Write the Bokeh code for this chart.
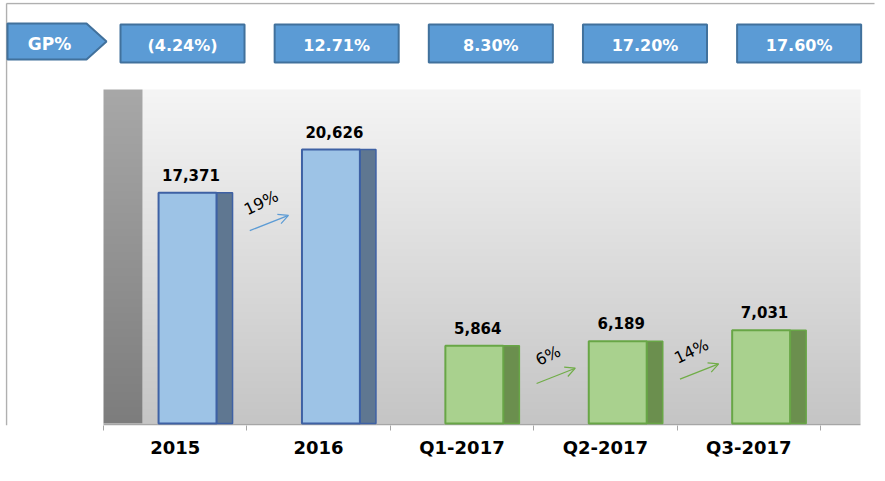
import numpy as np
from bokeh.plotting import figure
from bokeh.models import Range1d, FixedTicker, Arrow, OpenHead, ColumnDataSource
from bokeh.embed import file_html
from bokeh.resources import INLINE
from bokeh.core.properties import value

# ---------------- data ----------------
categories = ["2015", "2016", "Q1-2017", "Q2-2017", "Q3-2017"]
revenue = [17371, 20626, 5864, 6189, 7031]
period_type = ["annual", "annual", "quarter", "quarter", "quarter"]
gp_labels = ["(4.24%)", "12.71%", "8.30%", "17.20%", "17.60%"]
growth_labels = ["19%", "6%", "14%"]
growth_from = [0, 2, 3]   # index of the bar each growth arrow starts from

# ---------------- styles / layout ----------------
FONT = "DejaVu Sans"
W, H = 885, 481
CAT0_PX = 103          # screen x of category boundary 0
PX_PER_CAT = 143.4
FRAME_L, FRAME_R = 5, 880
FRAME_T, FRAME_B = 2, 425
BASE_PX = 423          # screen y of value 0
PX_PER_UNIT = 0.01328
WALL_R = (860 - CAT0_PX) / PX_PER_CAT
WALL_TOP = (BASE_PX - 89) / PX_PER_UNIT
SIDE_W = (142 - CAT0_PX) / PX_PER_CAT

FRONT = {"annual": "#9dc3e6", "quarter": "#a9d18e"}
EDGE = {"annual": "#3e61a4", "quarter": "#68a646"}
SIDE = {"annual": "#5f7791", "quarter": "#6b8f4e"}
ARROW = {"annual": "#5b9bd5", "quarter": "#70ad47"}


def ux(px):
    return (px - CAT0_PX) / PX_PER_CAT


def gradient(bottom, top, n=256):
    t = np.linspace(0, 1, n)[:, None]
    cols = np.array(bottom) + (np.array(top) - np.array(bottom)) * t
    img = np.zeros((n, 1), dtype=np.uint32)
    view = img.view(dtype=np.uint8).reshape((n, 1, 4))
    view[:, 0, 0:3] = cols.astype(np.uint8)
    view[:, 0, 3] = 255
    return img


p = figure(width=W, height=H,
           x_range=Range1d(ux(FRAME_L), ux(FRAME_R)),
           y_range=Range1d((BASE_PX - FRAME_B) / PX_PER_UNIT,
                           (BASE_PX - FRAME_T) / PX_PER_UNIT),
           y_axis_location=None, toolbar_location=None, output_backend="svg",
           min_border_left=FRAME_L, min_border_right=W - FRAME_R,
           min_border_top=FRAME_T, min_border_bottom=H - FRAME_B,
           outline_line_color=None)
p.grid.visible = False
p.extra_y_ranges = {"px": Range1d(start=FRAME_B, end=FRAME_T)}

# slide border lines (top & left)
p.segment(x0=[ux(6), ux(6)], y0=[3, 3], x1=[ux(6), ux(874)], y1=[FRAME_B, 3],
          line_color="#b0b0b0", line_width=1.5, y_range_name="px")

# back wall + side wall
p.image_rgba(image=[gradient((197, 197, 197), (245, 245, 245))],
             x=SIDE_W, y=0, dw=WALL_R - SIDE_W, dh=WALL_TOP)
p.image_rgba(image=[gradient((125, 125, 125), (168, 168, 168))],
             x=0, y=0, dw=SIDE_W, dh=WALL_TOP)
# floor line
p.segment(x0=[0], y0=[424], x1=[WALL_R], y1=[424], line_color="#a6a6a6",
          line_width=2, y_range_name="px")

# ---------------- GP% row ----------------
box_x = [0.551 + i * 1.075 for i in range(len(gp_labels))]
box_src = ColumnDataSource(dict(x=box_x, label=gp_labels))
p.rect(x="x", y=43, width=0.865, height=38, fill_color="#5b9bd5",
       line_color="#41719c", line_width=2, source=box_src, y_range_name="px")
p.text(x="x", y=45, text="label", text_color="white",
       text_font=value(FONT), text_font_style="bold", text_font_size="16px",
       text_align="center", text_baseline="middle", source=box_src,
       y_range_name="px")
p.patch(x=[ux(7), ux(86), ux(106), ux(86), ux(7)], y=[23, 23, 41, 59, 59],
        fill_color="#5b9bd5", line_color="#41719c", line_width=2,
        y_range_name="px")
p.text(x=[ux(49)], y=[43], text=["GP%"], text_color="white",
       text_font=value(FONT), text_font_style="bold", text_font_size="17px",
       text_align="center", text_baseline="middle", y_range_name="px")

# ---------------- bars ----------------
idx = list(range(len(categories)))
src = ColumnDataSource(dict(
    left=[i + 0.384 for i in idx],
    mid=[i + 0.788 for i in idx],
    right=[i + 0.9 for i in idx],
    lab_x=[i + 0.61 for i in idx],
    top=revenue,
    label=[f"{v:,}" for v in revenue],
    front=[FRONT[k] for k in period_type],
    edge=[EDGE[k] for k in period_type],
    side=[SIDE[k] for k in period_type],
))
p.quad(left="mid", right="right", bottom=0, top="top", fill_color="side",
       line_color="edge", line_width=1.5, source=src)
p.quad(left="left", right="mid", bottom=0, top="top", fill_color="front",
       line_color="edge", line_width=2, source=src)
p.text(x="lab_x", y="top", text="label", text_color="black",
       text_font=value(FONT), text_font_style="bold", text_font_size="15px",
       text_align="center", text_baseline="alphabetic", y_offset=-18,
       source=src)

# growth arrows
g_x, g_y = [], []
for lab, i in zip(growth_labels, growth_from):
    v = revenue[i]
    col = ARROW[period_type[i + 1]]
    p.add_layout(Arrow(x_start=i + 1.02, y_start=v - 2850,
                       x_end=i + 1.29, y_end=v - 1700,
                       line_color=col, line_width=1.2,
                       end=OpenHead(size=10, line_color=col, line_width=1.2)))
    g_x.append(i + 1.1)
    g_y.append(v - 750)
p.text(x=g_x, y=g_y, text=growth_labels, angle=0.45, text_color="black",
       text_font=value(FONT), text_font_size="16px",
       text_align="center", text_baseline="middle")

# ---------------- x axis with boundary ticks ----------------
ax = p.xaxis[0]
ax.ticker = FixedTicker(ticks=[i + 0.5 for i in idx],
                        minor_ticks=[float(i) for i in range(len(categories) + 1)])
ax.major_label_overrides = {i + 0.5: c for i, c in zip(idx, categories)}
ax.major_tick_line_color = None
ax.major_tick_out = 0
ax.major_tick_in = 0
ax.minor_tick_out = 5
ax.minor_tick_in = 0
ax.minor_tick_line_color = "#a6a6a6"
ax.axis_line_color = None
ax.major_label_standoff = 6
ax.major_label_text_font = FONT
ax.major_label_text_font_style = "bold"
ax.major_label_text_font_size = "18px"
ax.major_label_text_color = "black"

open("out.html", "w").write(file_html(p, INLINE))
